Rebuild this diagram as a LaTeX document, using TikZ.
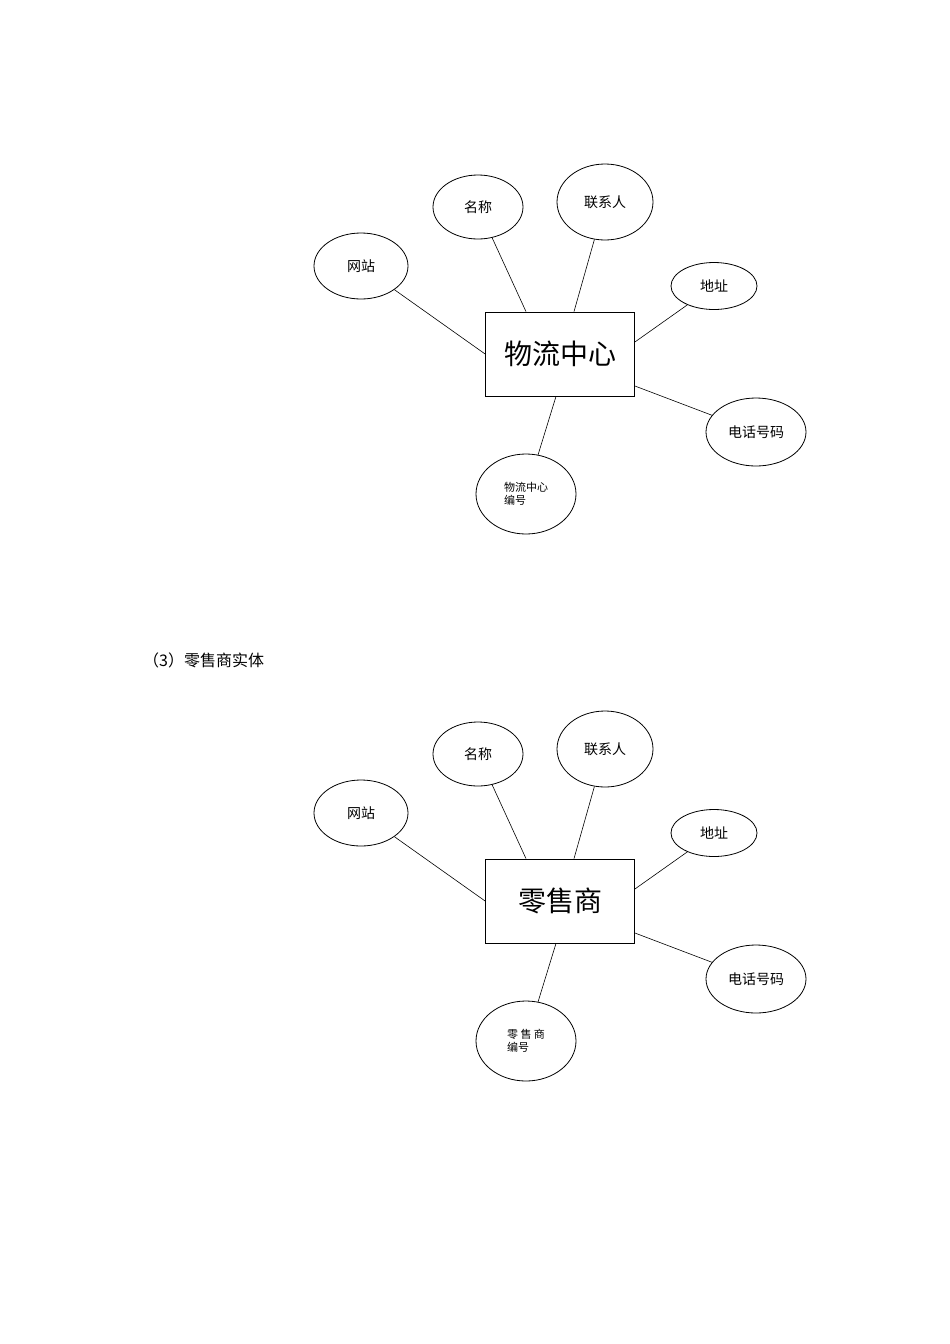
\documentclass[tikz,border=0pt]{standalone}
\usepackage{fontspec}
\setmainfont{Noto Sans CJK SC}
\usetikzlibrary{shapes.geometric}
\begin{document}
\begin{tikzpicture}[x=1pt,y=-1pt,
  attr/.style={draw,ellipse,line width=0.8pt,inner sep=0pt,font=\fontsize{14}{16}\selectfont},
  ent/.style={draw,rectangle,line width=0.8pt,minimum width=149pt,minimum height=84pt,font=\fontsize{28}{30}\selectfont},
  con/.style={line width=0.6pt}]
\useasboundingbox (0,0) rectangle (950,1344);
\foreach \dy/\nm/\id/\lab in {0/物流中心/a/{物流中心\\编号},547/零售商/b/{零 售 商\\编号}}{
  \node[ent] (\id E) at (560,354+\dy) {\nm};
  \node[attr,minimum width=94pt,minimum height=66pt] (\id 1) at (361,266+\dy) {网站};
  \node[attr,minimum width=90pt,minimum height=64pt] (\id 2) at (478,207+\dy) {名称};
  \node[attr,minimum width=96pt,minimum height=76pt] (\id 3) at (605,202+\dy) {联系人};
  \node[attr,minimum width=86pt,minimum height=47pt] (\id 4) at (714,286+\dy) {地址};
  \node[attr,minimum width=100pt,minimum height=68pt] (\id 5) at (756,432+\dy) {电话号码};
  \node[attr,minimum width=100pt,minimum height=80pt,align=left,font=\fontsize{11}{13}\selectfont] (\id 6) at (526,494+\dy) {\lab};
  \draw[con] (\id 1) -- (\id E.west);
  \draw[con] (\id 2) -- ([xshift=-34pt]\id E.north);
  \draw[con] (\id 3) -- ([xshift=14pt]\id E.north);
  \draw[con] (\id 4) -- ([yshift=12pt]\id E.east);
  \draw[con] (\id 5) -- ([yshift=-32pt]\id E.east);
  \draw[con] (\id 6) -- ([xshift=-4pt]\id E.south);
}
\node[anchor=west,inner sep=0pt,font=\fontsize{16}{18}\selectfont] (t) at (143,660) {（3）零售商实体};
\end{tikzpicture}
\end{document}
